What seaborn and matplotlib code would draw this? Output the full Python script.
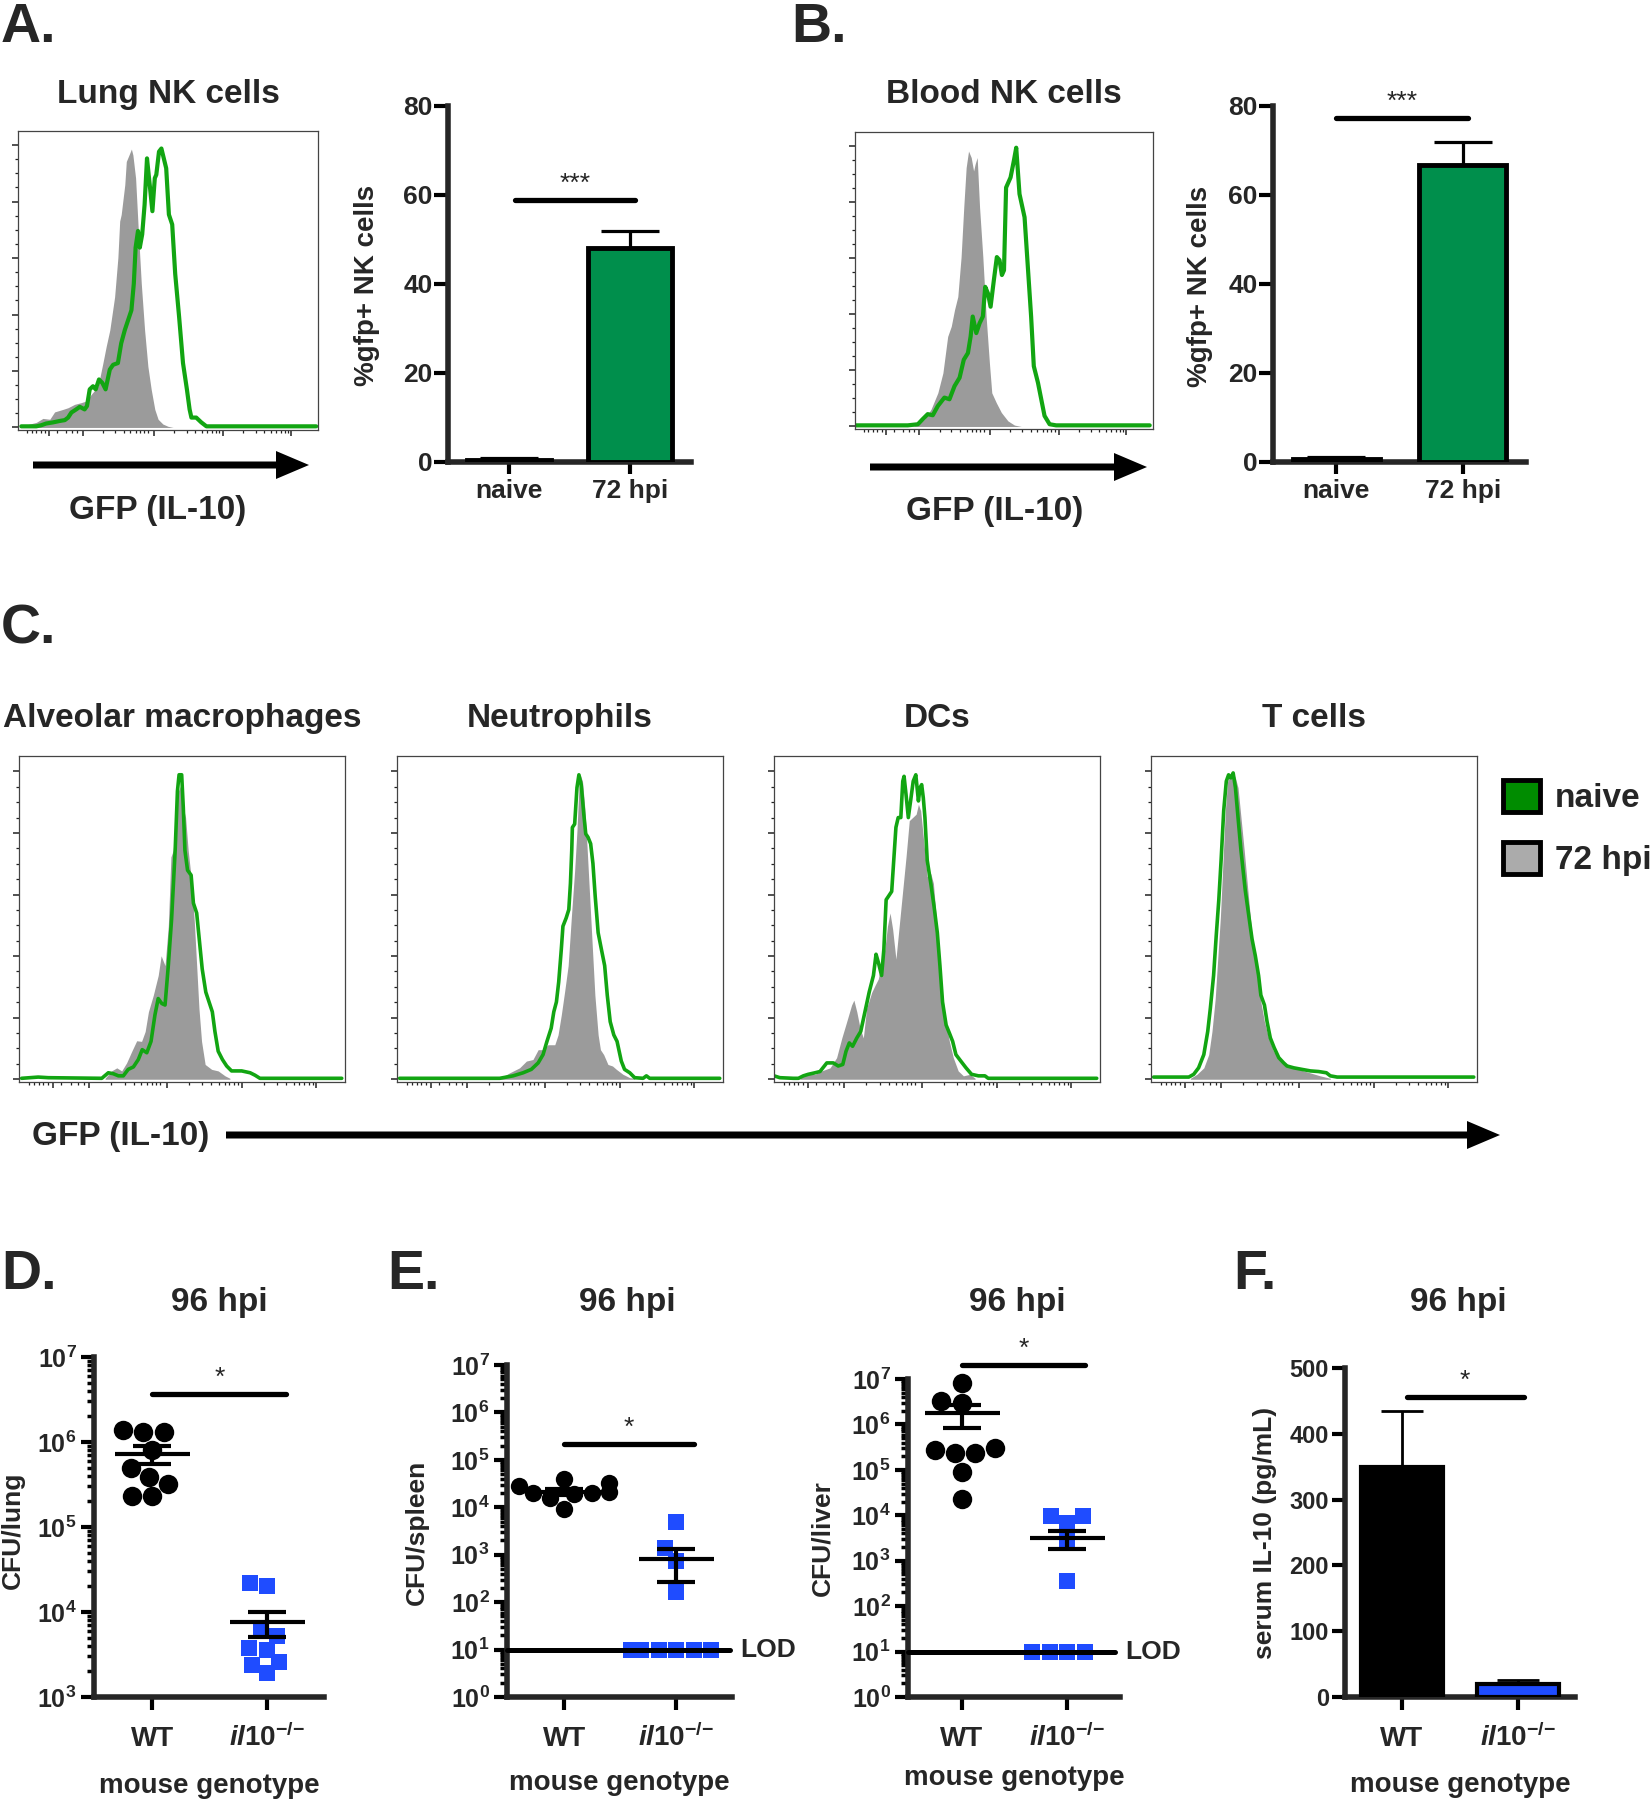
import numpy as np
import pandas as pd
import matplotlib
matplotlib.use("Agg")
import matplotlib.pyplot as plt
import seaborn as sns
from matplotlib.patches import FancyArrow, Patch
from matplotlib.ticker import FixedLocator, LogLocator, NullFormatter

# ------------------------------------------------------------------ data
# Flow histograms: x = GFP channel (0-1000), y = % of mode
lung_gray_x = [11, 39, 61, 83, 106, 122, 150, 167, 189, 211, 228, 244, 267, 283, 294, 306, 322, 333,
               339, 344, 356, 361, 370, 378, 383, 392, 400, 411, 422, 433, 444, 456, 467, 483, 500, 517]
lung_gray_y = [0.4, 1.2, 1.8, 3.2, 2.9, 5.5, 6.4, 7.0, 8.2, 8.8, 9.4, 11.7, 14.6, 22.8, 28.7, 34.5, 46.2,
               60.2, 73.1, 75.4, 86.0, 94.2, 96.5, 98.6, 96.5, 88.3, 71.9, 50.9, 34.5, 21.6, 13.5, 6.4,
               2.9, 1.2, 0.4, 0.0]
lung_green_x = [11, 61, 78, 94, 117, 139, 156, 167, 178, 194, 206, 222, 230, 239, 250, 259, 270, 281,
                292, 306, 317, 333, 344, 356, 367, 378, 386, 392, 400, 406, 414, 422, 430, 439, 448,
                456, 461, 470, 478, 486, 494, 503, 514, 524, 537, 550, 563, 572, 578, 594, 611, 628, 994]
lung_green_y = [0.4, 0.4, 0.8, 1.4, 1.8, 2.3, 2.6, 3.5, 5.3, 6.4, 7.3, 6.4, 7.6, 13.5, 14.6, 13.5, 17.0,
                15.8, 13.5, 20.5, 22.2, 22.8, 29.8, 34.5, 38.0, 41.5, 50.9, 63.7, 69.6, 63.7, 68.4, 78.9,
                95.3, 86.0, 76.6, 88.3, 89.5, 97.7, 98.8, 95.3, 91.8, 75.4, 71.9, 54.4, 39.2, 22.8, 13.5,
                6.4, 3.5, 3.5, 1.8, 0.4, 0.4]

blood_gray_x = [132, 199, 233, 255, 278, 295, 311, 323, 334, 345, 356, 365, 373, 381, 390, 398, 403, 410,
                418, 429, 440, 451, 459, 474, 491, 513, 535, 558]
blood_gray_y = [0.0, 0.2, 2.6, 6.1, 12.0, 19.1, 32.1, 35.7, 41.6, 46.3, 60.4, 78.2, 92.3, 98.2, 95.9, 91.1,
                93.5, 95.9, 78.2, 60.4, 39.2, 22.7, 12.0, 8.5, 5.0, 2.0, 0.5, 0.0]
blood_green_x = [3, 177, 211, 227, 244, 261, 278, 300, 317, 334, 351, 365, 379, 388, 395, 407, 418, 429,
                 437, 446, 455, 466, 476, 485, 493, 500, 507, 522, 533, 541, 552, 569, 580, 591, 600, 614,
                 625, 636, 653, 675, 989]
blood_green_y = [0.4, 0.4, 0.8, 2.6, 4.4, 4.0, 7.3, 10.3, 9.7, 14.4, 17.4, 23.8, 26.2, 32.1, 39.2, 33.3,
                 36.8, 39.2, 49.8, 47.5, 42.7, 52.2, 60.4, 59.3, 54.0, 55.7, 85.2, 88.8, 94.7, 99.4, 82.9,
                 74.6, 56.9, 39.2, 21.5, 15.6, 9.7, 3.8, 0.8, 0.4, 0.4]

am_gray_x = [264, 284, 300, 315, 330, 346, 361, 376, 387, 397, 412, 427, 436, 448, 458, 466, 473, 481,
             489, 497, 504, 511, 519, 530, 538, 545, 552, 560, 571, 591, 611, 632, 647]
am_gray_y = [0.3, 2.7, 3.7, 2.7, 5.3, 9.1, 12.5, 12.3, 15.5, 21.9, 27.3, 33.7, 40.1, 36.9, 49.7, 72.2,
             74.3, 85.0, 93.6, 95.7, 88.2, 85.0, 74.3, 63.6, 50.8, 36.9, 23.0, 12.3, 4.8, 3.2, 2.7, 1.1, 0.3]
am_green_x = [8, 59, 90, 254, 274, 289, 305, 320, 335, 351, 366, 378, 392, 405, 417, 427, 438, 448, 458,
              468, 479, 486, 491, 499, 504, 509, 517, 528, 535, 545, 552, 562, 573, 583, 593, 601, 611,
              624, 637, 652, 683, 709, 724, 739, 990]
am_green_y = [0.3, 0.7, 0.5, 0.3, 2.1, 1.8, 1.1, 1.1, 3.2, 4.0, 6.4, 9.6, 8.6, 12.3, 20.9, 26.2, 24.6,
              24.1, 36.9, 51.9, 74.3, 93.6, 98.9, 98.9, 88.2, 74.3, 67.9, 66.3, 57.2, 54.0, 46.5, 35.8,
              28.3, 25.1, 21.9, 15.5, 9.1, 6.4, 4.3, 2.7, 2.7, 2.1, 1.3, 0.3, 0.3]

neu_gray_x = [315, 346, 376, 397, 417, 433, 448, 463, 484, 494, 504, 514, 525, 535, 545, 552, 558, 562,
              569, 576, 583, 591, 599, 607, 617, 624, 634, 647, 661, 673, 693, 714, 729]
neu_gray_y = [0.3, 2.1, 3.7, 5.9, 6.4, 9.6, 9.6, 11.2, 11.2, 14.4, 20.9, 28.3, 36.9, 52.9, 67.9, 80.7,
              94.7, 98.9, 96.8, 88.2, 75.4, 59.4, 43.3, 27.3, 14.4, 9.6, 8.0, 4.8, 4.3, 3.2, 1.6, 0.5, 0.3]
neu_green_x = [8, 315, 356, 387, 412, 433, 448, 460, 473, 481, 489, 496, 504, 509, 519, 527, 532, 536,
               538, 545, 552, 558, 565, 573, 579, 586, 594, 601, 608, 617, 627, 637, 645, 654, 665, 675,
               688, 698, 714, 729, 755, 765, 775, 990]
neu_green_y = [0.3, 0.3, 1.1, 2.1, 3.2, 5.3, 8.0, 12.3, 16.6, 21.9, 25.1, 31.6, 42.2, 49.7, 52.4, 55.1,
               63.6, 74.3, 81.8, 82.9, 94.7, 98.9, 95.7, 86.1, 79.7, 78.6, 76.5, 70.1, 59.4, 47.6, 42.2,
               36.9, 27.3, 18.7, 14.4, 12.3, 5.9, 3.2, 2.1, 0.5, 0.3, 1.1, 0.3, 0.3]

dc_gray_x = [80, 105, 126, 146, 172, 192, 208, 223, 238, 245, 254, 264, 274, 284, 300, 310, 320, 330,
             340, 348, 356, 364, 374, 384, 395, 405, 415, 425, 436, 443, 450, 460, 470, 481, 489, 499,
             511, 525, 538, 550, 565, 581, 601, 617]
dc_gray_y = [0.3, 2.1, 1.6, 2.7, 3.7, 7.0, 13.4, 18.7, 24.1, 25.7, 21.9, 16.6, 13.4, 23.0, 28.3, 30.5,
             32.6, 38.0, 42.2, 49.7, 54.0, 48.7, 39.0, 49.7, 61.5, 72.2, 84.0, 85.0, 86.1, 89.3, 87.2,
             76.5, 65.8, 66.8, 63.6, 50.8, 33.7, 19.8, 12.3, 7.0, 2.7, 1.1, 1.6, 0.3]
dc_green_x = [0, 18, 59, 75, 90, 105, 126, 141, 162, 182, 197, 211, 221, 231, 241, 254, 266, 279, 292,
              305, 313, 320, 330, 337, 344, 351, 361, 368, 374, 381, 389, 395, 399, 405, 412, 419, 427,
              435, 443, 448, 453, 458, 463, 470, 481, 491, 501, 509, 517, 528, 538, 548, 558, 573, 589,
              606, 627, 647, 657, 990]
dc_green_y = [1.1, 0.5, 0.3, 0.3, 1.1, 1.6, 2.1, 2.5, 5.3, 5.3, 4.3, 4.8, 9.1, 11.8, 10.7, 13.4, 15.5,
              21.9, 28.3, 33.7, 40.6, 38.0, 33.7, 42.2, 58.3, 59.4, 61.0, 72.2, 81.8, 85.0, 85.0, 96.8,
              98.4, 92.5, 85.0, 90.4, 96.8, 98.9, 90.4, 94.7, 95.7, 91.4, 85.0, 71.1, 63.6, 56.1, 47.6,
              36.9, 25.1, 17.6, 15.0, 12.3, 8.0, 5.9, 3.7, 1.6, 1.1, 1.1, 0.3, 0.3]

tc_gray_x = [121, 141, 162, 177, 187, 197, 204, 213, 220, 228, 235, 243, 252, 259, 267, 276, 286, 297,
             310, 325, 337, 348, 361, 376, 397, 427, 468, 519, 550]
tc_gray_y = [0.3, 1.6, 3.7, 8.0, 15.5, 26.2, 38.0, 52.9, 69.0, 87.2, 96.8, 98.9, 99.5, 97.9, 94.7, 85.0,
             74.3, 61.5, 46.5, 33.7, 25.1, 18.7, 13.4, 9.1, 6.4, 4.3, 2.7, 1.1, 0.3]
tc_green_x = [8, 116, 131, 146, 162, 174, 182, 192, 200, 208, 215, 223, 231, 238, 245, 252, 259, 267,
              276, 289, 303, 310, 320, 330, 337, 348, 356, 366, 378, 392, 407, 417, 438, 463, 489, 514,
              538, 550, 571, 591, 990]
tc_green_y = [0.7, 0.7, 1.6, 3.7, 8.0, 15.5, 23.0, 33.7, 46.5, 58.3, 71.1, 87.2, 96.8, 98.9, 97.9, 99.5,
              94.7, 85.0, 74.3, 61.5, 50.8, 45.5, 40.1, 33.7, 27.3, 24.1, 18.7, 13.4, 10.2, 7.0, 5.3, 4.3,
              3.7, 3.2, 2.7, 2.5, 2.1, 1.1, 0.7, 0.7, 0.7]

# %GFP+ NK cells
nk_groups = ["naive", "72 hpi"]
lung_nk_pct = [0.4, 48.2]
lung_nk_sem = [0.4, 3.6]
blood_nk_pct = [0.6, 66.8]
blood_nk_sem = [0.5, 5.1]

# CFU counts at 96 hpi
genotypes = ["WT", "il10"]
lung_cfu_wt = [1.4e6, 1.3e6, 1.3e6, 8.1e5, 4.9e5, 3.9e5, 3.2e5, 2.3e5, 2.3e5]
lung_cfu_ko = [2.2e4, 2.0e4, 6.4e3, 5.2e3, 3.8e3, 3.6e3, 2.6e3, 2.4e3, 1.9e3]
lung_cfu_mean = [7.2e5, 7.6e3]
lung_cfu_sem = [1.7e5, 2.5e3]
spleen_cfu_wt = [4.0e4, 3.2e4, 2.8e4, 2.1e4, 2.0e4, 2.0e4, 1.9e4, 1.6e4, 9.3e3]
spleen_cfu_ko = [4.8e3, 1.4e3, 7.4e2, 1.6e2, 10, 10, 10, 10, 10, 10]
spleen_cfu_mean = [2.1e4, 8.0e2]
spleen_cfu_sem = [3.0e3, 5.3e2]
liver_cfu_wt = [8.3e6, 3.3e6, 3.0e6, 3.0e5, 2.75e5, 2.3e5, 2.3e5, 9.1e4, 2.3e4]
liver_cfu_ko = [9.5e3, 9.5e3, 6.9e3, 2.8e3, 3.5e2, 10, 10, 10, 10]
liver_cfu_mean = [1.75e6, 3.2e3]
liver_cfu_sem = [0.9e6, 1.4e3]
lod = 10

# serum IL-10 (pg/mL)
serum_il10 = [350, 20]
serum_il10_sem = [85, 6]

# ------------------------------------------------------------------ style
sns.set_style("ticks")
plt.rcParams["font.family"] = ["Liberation Sans", "DejaVu Sans"]
plt.rcParams["font.weight"] = "bold"
plt.rcParams["axes.labelweight"] = "bold"
plt.rcParams["axes.titleweight"] = "bold"
plt.rcParams["mathtext.fontset"] = "custom"
plt.rcParams["mathtext.rm"] = "Liberation Sans:bold"
plt.rcParams["mathtext.bf"] = "Liberation Sans:bold"
plt.rcParams["mathtext.it"] = "Liberation Sans:italic:bold"
plt.rcParams["mathtext.sf"] = "Liberation Sans:bold"

GREEN_LINE = "#12a512"
GRAY_FILL = "#9b9b9b"
BAR_GREEN = "#008f4c"
LEG_GREEN = "#008c00"
LEG_GRAY = "#ababab"
BLUE = "#1f4cff"

W, H = 1650, 1800
fig = plt.figure(figsize=(W / 100, H / 100), dpi=100)


def add_ax(l, t, r, b):
    return fig.add_axes([l / W, 1 - b / H, (r - l) / W, (b - t) / H])


HIST_MAJOR = [103, 215, 453, 683, 911]
HIST_MINOR = [30, 45, 60, 75, 90, 130, 160, 180, 198] + [
    d + 228 * np.log10(k) for d in (215, 453, 683) for k in range(2, 10)]


def flow_hist(rect, title, gx, gy, lx, ly, lw, pad):
    ax = add_ax(*rect)
    ax.fill_between(gx, gy, 0, color=GRAY_FILL, lw=0, zorder=1)
    sns.lineplot(x=lx, y=ly, color=GREEN_LINE, lw=lw, ax=ax, sort=False,
                 estimator=None, zorder=2)
    ax.set_xlim(0, 1000)
    ax.set_ylim(-0.9, 105)
    for s in ax.spines.values():
        s.set_linewidth(0.9)
        s.set_color("#444444")
    ax.xaxis.set_major_locator(FixedLocator(HIST_MAJOR))
    ax.xaxis.set_minor_locator(FixedLocator(HIST_MINOR))
    ax.yaxis.set_major_locator(FixedLocator([0, 20, 40, 60, 80, 100]))
    ax.yaxis.set_minor_locator(FixedLocator([v for v in range(5, 100, 5) if v % 20]))
    ax.tick_params(which="major", direction="out", length=4, width=1.1,
                   labelbottom=False, labelleft=False, color="#222222")
    ax.tick_params(which="minor", direction="out", length=2.2, width=0.9, color="#222222")
    ax.set_xlabel("")
    ax.set_ylabel("")
    ax.set_title(title, fontsize=24, fontweight="bold", pad=pad)
    return ax


def graph_axes(ax):
    sns.despine(ax=ax)
    ax.spines["left"].set_linewidth(4)
    ax.spines["bottom"].set_linewidth(4)
    ax.tick_params(axis="both", which="major", width=3, color="black")
    ax.set_xlabel("")
    ax.set_ylabel("")


def sig_bar(ax, x0, x1, y, stars, off=3):
    ax.plot([x0, x1], [y, y], color="black", lw=3.8, solid_capstyle="round",
            clip_on=False, zorder=6)
    ax.annotate(stars, xy=((x0 + x1) / 2, y), xytext=(0, off), textcoords="offset points",
                ha="center", va="bottom", fontsize=19, fontweight="normal",
                annotation_clip=False)


def nk_bars(rect, vals, sems, sig_y, sig_x):
    ax = add_ax(*rect)
    df = pd.DataFrame({"group": nk_groups, "pct": vals})
    sns.barplot(data=df, x="group", y="pct", hue="group", palette=[BAR_GREEN, BAR_GREEN],
                saturation=1, width=0.69, edgecolor="black", linewidth=3.5, errorbar=None,
                legend=False, ax=ax, zorder=3)
    ax.errorbar([0, 1], vals, yerr=[[0, 0], sems], fmt="none", ecolor="black",
                elinewidth=2.3, capsize=21, capthick=2.3, zorder=2)
    ax.set_xlim(-0.5, 1.5)
    ax.set_ylim(0, 80)
    ax.set_yticks([0, 20, 40, 60, 80])
    graph_axes(ax)
    ax.tick_params(axis="y", length=10, labelsize=19, pad=1)
    ax.tick_params(axis="x", length=8.5, labelsize=19, pad=4)
    sig_bar(ax, sig_x[0], sig_x[1], sig_y, "***")
    return ax


KO_LABEL = r"$\mathit{il10}^{\mathit{{-}/{-}}}$"


def set_geno_ticks(ax, xpad):
    ax.set_xticks([0, 1])
    ax.set_xticklabels(["WT", KO_LABEL])
    ax.tick_params(axis="x", length=9.5, labelsize=20, pad=26)
    for lbl in ax.get_xticklabels():
        lbl.set_verticalalignment("baseline")
    ax.set_xlabel("mouse genotype", fontsize=20, labelpad=xpad)


def cfu_plot(rect, wt, ko, means, sems, ylo, sig_y, sig_x, lod_x=None, dot=14, sq=12, xpad=14):
    ax = add_ax(*rect)
    ax.set_yscale("log")
    sns.swarmplot(data=pd.DataFrame({"genotype": "WT", "cfu": wt}), x="genotype", y="cfu",
                  order=genotypes, color="black", marker="o", size=dot, log_scale=True,
                  warn_thresh=1, ax=ax, zorder=3, clip_on=False)
    sns.swarmplot(data=pd.DataFrame({"genotype": "il10", "cfu": ko}), x="genotype", y="cfu",
                  order=genotypes, color=BLUE, marker="s", size=sq, log_scale=True,
                  warn_thresh=1, ax=ax, zorder=3, clip_on=False)
    ax.errorbar([0, 1], means, yerr=sems, fmt="_", color="black", markersize=54, mew=3,
                elinewidth=3, capsize=14, capthick=3, zorder=5)
    ax.set_xlim(-0.51, 1.5)
    ax.set_ylim(ylo, 1e7)
    decades = [10.0 ** k for k in range(int(np.log10(ylo)), 8)]
    ax.yaxis.set_major_locator(FixedLocator(decades))
    ax.set_yticklabels([r"$10^{%d}$" % int(np.log10(d)) for d in decades])
    ax.yaxis.set_minor_locator(LogLocator(base=10, subs=np.arange(2, 10), numticks=20))
    ax.yaxis.set_minor_formatter(NullFormatter())
    graph_axes(ax)
    ax.tick_params(axis="y", which="major", length=9.5, labelsize=18, pad=3)
    ax.tick_params(axis="y", which="minor", length=5, width=2.5, color="black")
    set_geno_ticks(ax, xpad)
    sig_bar(ax, sig_x[0], sig_x[1], sig_y, "*")
    if lod_x is not None:
        ax.plot([-0.51, lod_x[0]], [lod, lod], color="black", lw=3.6, zorder=6, clip_on=False)
        ax.text(lod_x[1], lod, "LOD", ha="left", va="center", fontsize=19, clip_on=False)
    return ax


# ------------------------------------------------------------------ panels A, B
flow_hist((18, 131, 318, 430), "Lung NK cells", lung_gray_x, lung_gray_y,
          lung_green_x, lung_green_y, 3.0, 20)
nk_bars((448, 106, 691, 462), lung_nk_pct, lung_nk_sem, 58.9, (0.05, 1.04))
flow_hist((855, 132, 1153, 429), "Blood NK cells", blood_gray_x, blood_gray_y,
          blood_green_x, blood_green_y, 3.0, 21)
nk_bars((1273, 106, 1526, 462), blood_nk_pct, blood_nk_sem, 77.4, (0.0, 1.04))

# ------------------------------------------------------------------ panel C
c_titles = ["Alveolar macrophages", "Neutrophils", "DCs", "T cells"]
c_data = [(am_gray_x, am_gray_y, am_green_x, am_green_y),
          (neu_gray_x, neu_gray_y, neu_green_x, neu_green_y),
          (dc_gray_x, dc_gray_y, dc_green_x, dc_green_y),
          (tc_gray_x, tc_gray_y, tc_green_x, tc_green_y)]
c_left = [19, 397, 774, 1151]
for left, title, d in zip(c_left, c_titles, c_data):
    flow_hist((left, 756, left + 326, 1082), title, *d, 2.6, 21)

# ------------------------------------------------------------------ panels D, E
cfu_plot((94, 1357, 324, 1697), lung_cfu_wt, lung_cfu_ko, lung_cfu_mean, lung_cfu_sem,
         1e3, 3.7e6, (0, 1.17), xpad=15)
cfu_plot((507, 1365, 732, 1697), spleen_cfu_wt, spleen_cfu_ko, spleen_cfu_mean,
         spleen_cfu_sem, 1e0, 2.2e5, (0, 1.16), lod_x=(1.48, 1.57), dot=12.5, xpad=13)
cfu_plot((908, 1379, 1120, 1697), liver_cfu_wt, liver_cfu_ko, liver_cfu_mean,
         liver_cfu_sem, 1e0, 2.0e7, (0, 1.17), lod_x=(1.45, 1.55), xpad=9)

# ------------------------------------------------------------------ panel F
axF = add_ax(1345, 1368, 1575, 1697)
sns.barplot(data=pd.DataFrame({"genotype": genotypes, "il10": serum_il10}), x="genotype",
            y="il10", hue="genotype", palette=["black", BLUE], saturation=1, width=0.70,
            edgecolor="black", linewidth=3, errorbar=None, legend=False, ax=axF, zorder=3)
axF.errorbar([0, 1], serum_il10, yerr=[[0, 0], serum_il10_sem], fmt="none", ecolor="black",
             elinewidth=2, capsize=15, capthick=2, zorder=2)
axF.set_xlim(-0.49, 1.49)
axF.set_ylim(0, 500)
axF.set_yticks([0, 100, 200, 300, 400, 500])
graph_axes(axF)
axF.tick_params(axis="y", length=9.5, labelsize=17, pad=2)
set_geno_ticks(axF, 14)
sig_bar(axF, 0.04, 1.05, 456, "*")

# ------------------------------------------------------------------ overlay: labels, arrows, legend
ov = fig.add_axes([0, 0, 1, 1])
ov.set_xlim(0, W)
ov.set_ylim(H, 0)
ov.axis("off")
ov.patch.set_visible(False)

for txt, x, y in [("A.", 1, 42), ("B.", 791, 42), ("C.", 1, 643),
                  ("D.", 1, 1289), ("E.", 387, 1289), ("F.", 1233, 1289)]:
    ov.text(x, y, txt, fontsize=40, ha="left", va="baseline")

ylabels = [("%gfp+ NK cells", 367, 285, 20), ("%gfp+ NK cells", 1200, 286, 20),
           ("CFU/lung", 13, 1530, 19), ("CFU/spleen", 417, 1532, 19),
           ("CFU/liver", 822, 1538, 19), ("serum IL-10 (pg/mL)", 1265, 1533, 19)]
for txt, x, y, fs in ylabels:
    ov.text(x, y, txt, rotation=90, ha="center", va="center", fontsize=fs)

for x in (219, 627, 1017, 1458):
    ov.text(x, 1311, "96 hpi", ha="center", va="baseline", fontsize=24)

ov.text(158, 519, "GFP (IL-10)", ha="center", va="baseline", fontsize=24)
ov.text(995, 520, "GFP (IL-10)", ha="center", va="baseline", fontsize=24)
ov.text(32, 1145, "GFP (IL-10)", ha="left", va="baseline", fontsize=24)

for x0, x1, y in [(33, 309, 465), (870, 1147, 467), (226, 1500, 1135)]:
    ov.add_patch(FancyArrow(x0, y, x1 - x0, 0, width=7, head_width=28, head_length=33,
                            length_includes_head=True, color="black", lw=0))

handles = [Patch(facecolor=LEG_GREEN, edgecolor="black", linewidth=3.5),
           Patch(facecolor=LEG_GRAY, edgecolor="black", linewidth=3.5)]
ov.legend(handles, ["naive", "72 hpi"], loc="upper left", bbox_to_anchor=(1503, 780),
          bbox_transform=ov.transData, frameon=False, fontsize=24, handlelength=1.1,
          handleheight=1.1, handletextpad=0.45, labelspacing=0.82, borderpad=0,
          borderaxespad=0)

fig.savefig("out.png", dpi=100)
